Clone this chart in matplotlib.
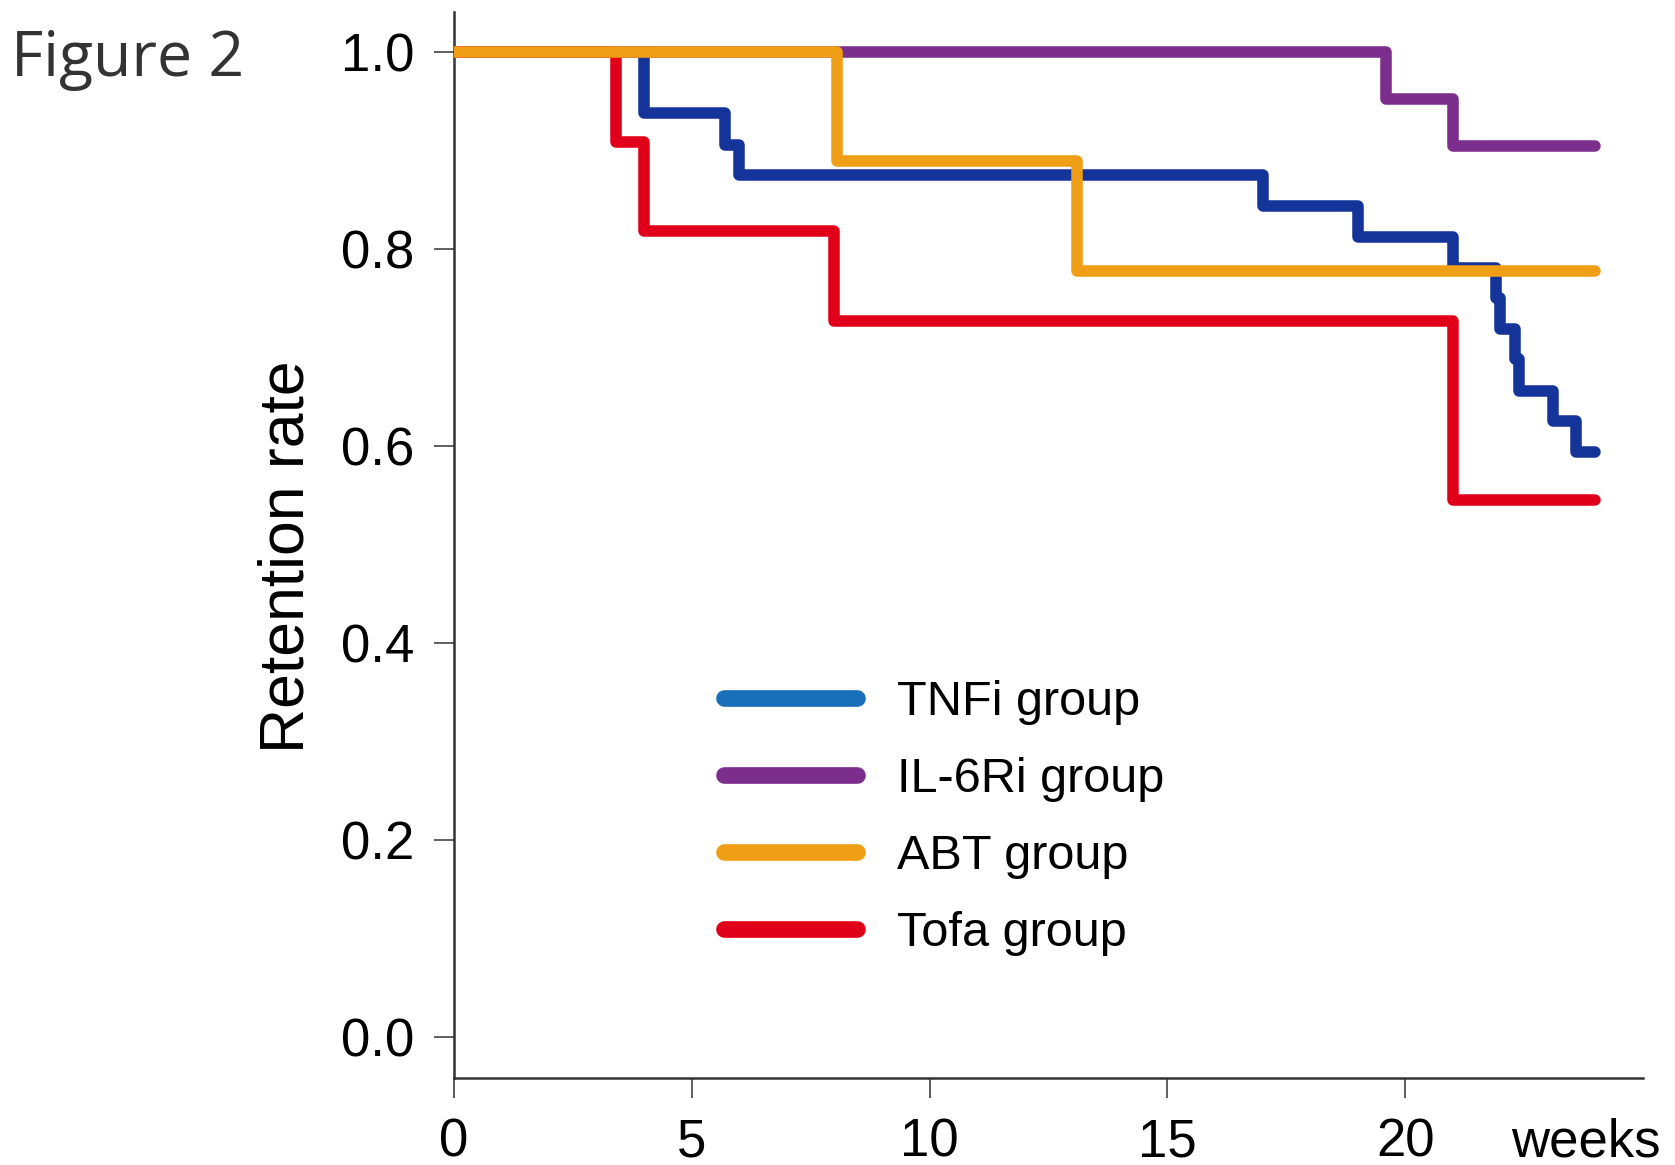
import matplotlib
matplotlib.use("Agg")
import matplotlib.pyplot as plt
from matplotlib.lines import Line2D

# ---- data ----
groups = ["TNFi group", "IL-6Ri group", "ABT group", "Tofa group"]

tnfi_weeks = [0, 4.0, 5.7, 6.0, 17.0, 19.0, 21.0, 21.9, 22.0, 22.3, 22.4, 23.1, 23.6, 24.0]
tnfi_rate = [1.0, 0.938, 0.906, 0.875, 0.844, 0.812, 0.781, 0.750, 0.719, 0.688, 0.656, 0.625, 0.594, 0.594]

il6_weeks = [0, 19.6, 21.0, 24.0]
il6_rate = [1.0, 0.952, 0.905, 0.905]

abt_weeks = [0, 8.05, 13.1, 24.0]
abt_rate = [1.0, 0.889, 0.778, 0.778]

tofa_weeks = [0, 3.4, 4.0, 8.0, 21.0, 24.0]
tofa_rate = [1.0, 0.909, 0.818, 0.727, 0.545, 0.545]

x_ticks = [0, 5, 10, 15, 20]
y_ticks = [0.0, 0.2, 0.4, 0.6, 0.8, 1.0]

# ---- style ----
line_colors = ["#15349a", "#7c2e8d", "#f09e16", "#e1001a"]
legend_colors = ["#1a6fba", "#7c2e8d", "#f09e16", "#e1001a"]
axis_color = "#333333"

plt.rcParams["font.family"] = ["Liberation Sans", "DejaVu Sans"]

W, H = 1675, 1165
fig = plt.figure(figsize=(W / 100, H / 100), dpi=100)
left, right, bottom, top = 454 / W, 1643 / W, 1 - 1078 / H, 1 - 12 / H
ax = fig.add_axes([left, bottom, right - left, top - bottom])

series = [
    (tnfi_weeks, tnfi_rate, line_colors[0], 1),
    (il6_weeks, il6_rate, line_colors[1], 2),
    (tofa_weeks, tofa_rate, line_colors[3], 3),
    (abt_weeks, abt_rate, line_colors[2], 4),
]
for xs, ys, c, z in series:
    ax.step(xs, ys, where="post", color=c, lw=8.3, zorder=z,
            solid_capstyle="round", solid_joinstyle="round")

ax.set_xlim(0, 25.0)
ax.set_ylim(-0.0416, 1.0406)
ax.set_xticks(x_ticks)
ax.set_xticklabels([str(v) for v in x_ticks])
ax.set_yticks(y_ticks)
ax.set_yticklabels([f"{v:.1f}" for v in y_ticks])

for s in ["top", "right"]:
    ax.spines[s].set_visible(False)
for s in ["left", "bottom"]:
    ax.spines[s].set_color(axis_color)
    ax.spines[s].set_linewidth(1.8)

ax.tick_params(axis="both", length=14.4, width=1.1, color=axis_color,
               labelsize=38, labelcolor="black")
ax.tick_params(axis="x", pad=14)
ax.tick_params(axis="y", pad=14)

ax.annotate("weeks", xy=(23.8, 0), xycoords=("data", "axes fraction"),
            xytext=(0, -(14.4 + 14)), textcoords="offset points",
            ha="center", va="top", fontsize=38, color="black")

fig.text(287 / W, 1 - 557 / H, "Retention rate", rotation=90, ha="center",
         va="center", fontsize=45, color="black")

fig.text(11 / W, 1 - 76 / H, "Figure 2", ha="left", va="baseline",
         fontsize=45, color="#333333", family=["Open Sans", "DejaVu Sans"])

handles = [Line2D([0], [0], color=c, lw=12, solid_capstyle="round") for c in legend_colors]
leg = ax.legend(handles, groups, loc="upper left",
                bbox_to_anchor=(724 / W, 1 - 680 / H), bbox_transform=fig.transFigure,
                frameon=False, fontsize=35, handlelength=2.74, handletextpad=0.81,
                labelspacing=0.66, borderpad=0, borderaxespad=0)

fig.savefig("out.png", dpi=100)
